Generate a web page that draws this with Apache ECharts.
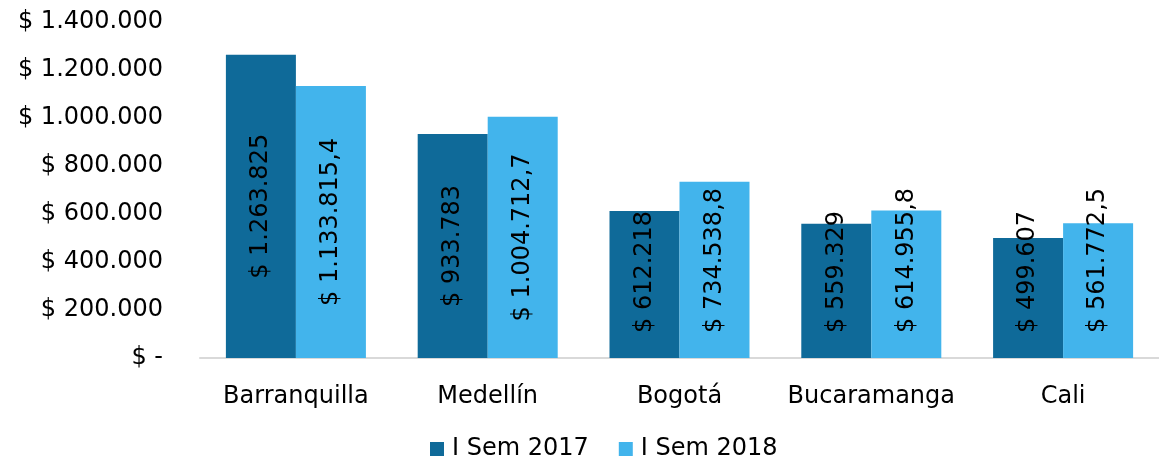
<!DOCTYPE html>
<html>
<head>
  <meta charset="utf-8">
  <title>Ciudades</title>
  <script src="https://cdn.jsdelivr.net/npm/echarts@6/dist/echarts.min.js"></script>
</head>
<body style="margin:0">
  <div id="container" style="height: 465px; width: 1159px"></div>
  <script>
    var cities = ['Barranquilla', 'Medellín', 'Bogotá', 'Bucaramanga', 'Cali'];
    var sem2017 = [1263825, 933783, 612218, 559329, 499607];
    var sem2018 = [1133815.4, 1004712.7, 734538.8, 614955.8, 561772.5];
    var seriesNames = ['I Sem 2017', 'I Sem 2018'];
    var colors = ['#0f6a99', '#42b4ec'];

    var font = 'DejaVu Sans';
    var yMax = 1400000;
    var plotH = 336;

    // 1.234.567,8 style
    function fmt(v) {
      var parts = String(v).split('.');
      var ent = parts[0].replace(/\B(?=(\d{3})+(?!\d))/g, '.');
      return parts.length > 1 ? ent + ',' + parts[1] : ent;
    }

    function barData(values) {
      return values.map(function (v) {
        var text = '$ ' + fmt(v);
        var h = v / yMax * plotH;
        var len = text.length * 14.5;
        // labels that would hang too low get pinned near the axis
        if (h / 2 - len / 2 < 25) {
          return { value: v, label: { position: 'insideBottom', distance: 25, align: 'left', verticalAlign: 'middle' } };
        }
        return { value: v, label: { position: 'inside', align: 'center', verticalAlign: 'middle' } };
      });
    }

    var myChart = echarts.init(document.getElementById('container'));
    var label = {
      show: true,
      rotate: 90,
      color: '#000',
      fontSize: 24,
      fontFamily: font,
      formatter: function (p) { return '$ ' + fmt(p.value); }
    };
    var option = {
      animation: false,
      backgroundColor: '#fff',
      grid: { left: 200, right: 0, top: 22, bottom: 107 },
      legend: {
        top: 437,
        left: 430,
        padding: 0,
        itemWidth: 14,
        itemHeight: 14,
        itemGap: 30,
        icon: 'rect',
        textStyle: { fontSize: 24, fontFamily: font, color: '#000', padding: [0, 0, 0, 3] },
        data: seriesNames
      },
      xAxis: {
        type: 'category',
        data: cities,
        axisLine: { lineStyle: { color: '#d9d9d9', width: 2 } },
        axisTick: { show: false },
        axisLabel: { interval: 0, fontSize: 24, fontFamily: font, color: '#000', margin: 27 }
      },
      yAxis: {
        type: 'value',
        min: 0,
        max: yMax,
        interval: 200000,
        splitLine: { show: false },
        axisLine: { show: false },
        axisTick: { show: false },
        axisLabel: {
          fontSize: 24, fontFamily: font, color: '#000', margin: 37,
          formatter: function (v) { return v === 0 ? '$ -' : '$ ' + fmt(v); }
        }
      },
      series: [
        {
          name: seriesNames[0], type: 'bar', data: barData(sem2017),
          itemStyle: { color: colors[0] }, label: label,
          barGap: '0%', barCategoryGap: '27%'
        },
        {
          name: seriesNames[1], type: 'bar', data: barData(sem2018),
          itemStyle: { color: colors[1] }, label: label,
          barGap: '0%', barCategoryGap: '27%'
        }
      ]
    };
    myChart.setOption(option);
  </script>
</body>
</html>
